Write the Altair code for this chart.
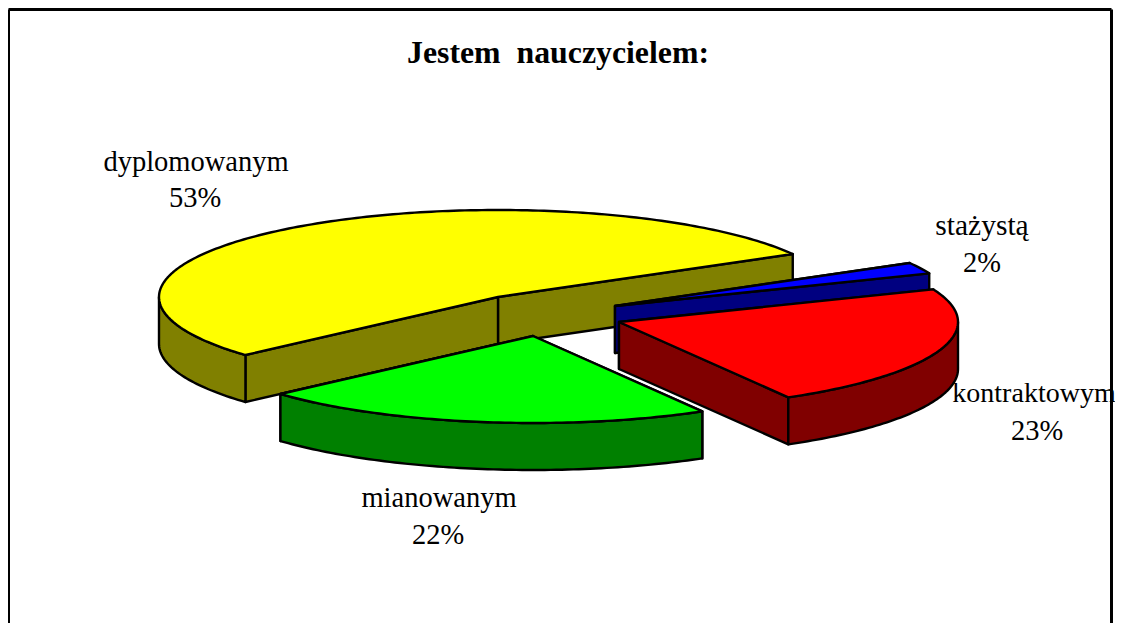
import math
import altair as alt

# --- chart data ---
categories = ["stażystą", "kontraktowym", "mianowanym", "dyplomowanym"]
shares = [2.1, 22.8, 21.7, 53.4]
title_text = "Jestem\u00a0\u00a0nauczycielem:"

# --- styles / geometry of the tilted pie ---
top_colors = ["#0000ff", "#ff0000", "#00ff00", "#ffff00"]
side_colors = ["#000080", "#800000", "#008000", "#808000"]
centers = [(615, 306), (619, 322), (533, 336), (498, 297)]
# label x, name y, percent x, percent y, name font size
label_pos = [(982, 226, 982, 263, 29.5), (1034, 394, 1037, 431, 28), (439, 498, 438, 535, 28.5), (196, 162, 195, 198, 28.5)]
RX, RY, DEPTH = 339, 87, 47
START = 29.6
PAGE_W, PAGE_H = 1107, 615
OX, OY = 8, 8


def pt(c, t, dz=0):
    return (c[0] + RX * math.cos(t), c[1] - RY * math.sin(t) + dz)


def feature(ring, color):
    ring = [list(p) for p in ring]
    ring.append(ring[0])
    return {"type": "Feature",
            "geometry": {"type": "Polygon", "coordinates": [ring]},
            "properties": {"c": color}}


def samples(lo, hi):
    n = max(3, int((hi - lo) * 60))
    return [lo + (hi - lo) * k / n for k in range(n + 1)]


features = []
draw_order = [3, 0, 1, 2]
spans = []
a = START
for s in shares:
    b = a - s * 3.6
    spans.append((math.radians(b), math.radians(a)))
    a = b

for i in draw_order:
    lo, hi = spans[i]
    c = centers[i]
    ts = samples(lo, hi)
    arc = [pt(c, t) for t in ts]
    cb = (c[0], c[1] + DEPTH)
    # cut faces: back one first
    ends = sorted([lo, hi], key=lambda t: pt(c, t)[1])
    for t in ends:
        features.append(feature([c, pt(c, t), pt(c, t, DEPTH), cb], side_colors[i]))
    # outer wall: only the part facing the viewer
    w_lo, w_hi = max(lo, -math.pi), min(hi, 0.0)
    if w_hi > w_lo:
        wt = samples(w_lo, w_hi)
        features.append(feature([pt(c, t) for t in wt] + [pt(c, t, DEPTH) for t in wt[::-1]],
                                side_colors[i]))
    # top
    features.append(feature([c] + arc, top_colors[i]))

pie = alt.Chart(alt.Data(values=features)).mark_geoshape(
    stroke="black", strokeWidth=2.4, strokeJoin="round"
).encode(
    fill=alt.Fill("properties.c:N", scale=None)
).project(type="identity", scale=1, translate=[-OX, -OY])

rows = []
for i, cat in enumerate(categories):
    x, y1, x2, y2, fs = label_pos[i]
    rows.append({"px": x, "py": y1, "t": cat, "fs": fs})
    rows.append({"px": x2, "py": y2, "t": f"{round(shares[i])}%", "fs": 28.5})

x_scale = alt.Scale(domain=[OX, OX + PAGE_W])
y_scale = alt.Scale(domain=[OY + PAGE_H, OY])
x_enc = alt.X("px:Q", scale=x_scale, axis=None)
y_enc = alt.Y("py:Q", scale=y_scale, axis=None)

labels = alt.Chart(alt.Data(values=rows)).mark_text(
    font="Liberation Serif", color="black", align="center", baseline="middle"
).encode(x=x_enc, y=y_enc, text="t:N", size=alt.Size("fs:Q", scale=None, legend=None))

title = alt.Chart(alt.Data(values=[{"px": 558, "py": 53, "t": title_text}])).mark_text(
    font="Liberation Serif", fontSize=31.8, fontWeight="bold", color="black",
    align="center", baseline="middle"
).encode(x=x_enc, y=y_enc, text="t:N")

frame_rows = [
    {"px": 8.5, "px2": 8.5, "py": 9.5, "py2": 623},
    {"px": 1111.5, "px2": 1111.5, "py": 9.5, "py2": 623},
    {"px": 8.5, "px2": 1111.5, "py": 9.5, "py2": 9.5},
]
frame = alt.Chart(alt.Data(values=frame_rows)).mark_rule(
    color="black", strokeWidth=3
).encode(x=x_enc, x2="px2:Q", y=y_enc, y2="py2:Q")

chart = alt.layer(pie, labels, title, frame).properties(
    width=PAGE_W, height=PAGE_H, padding=0,
    autosize=alt.AutoSizeParams(type="none")
).configure_view(stroke=None)

chart.save("out.html", embed_options={"renderer": "svg", "actions": False})
